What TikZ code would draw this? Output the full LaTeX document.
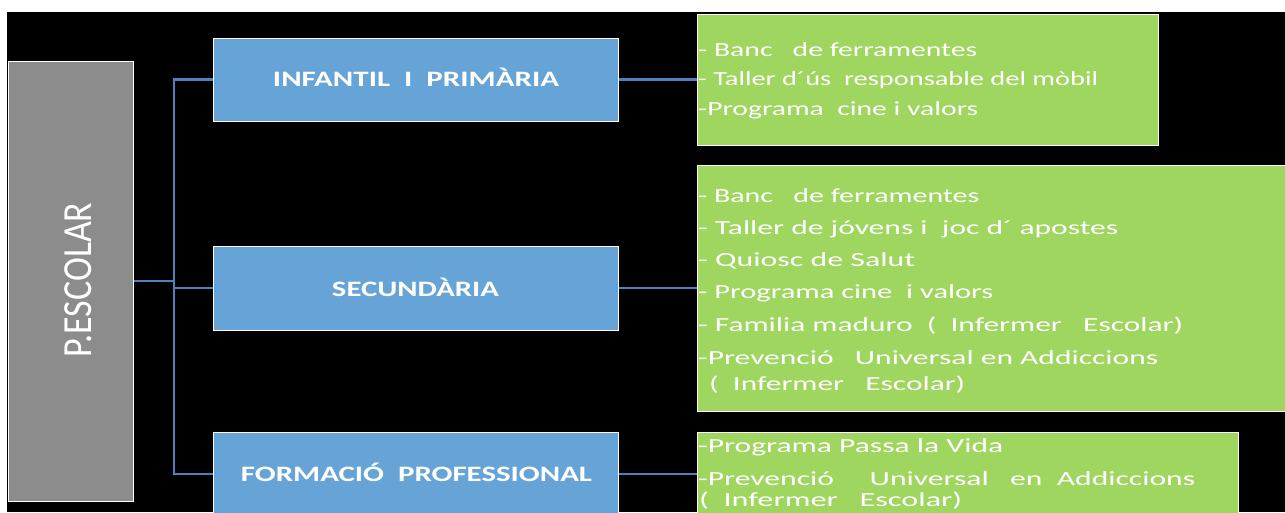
\documentclass[tikz,border=0pt]{standalone}
\usepackage{fontspec}
\usepackage{graphicx}
\setmainfont{Carlito}
\newcommand{\gw}[2]{\resizebox{#1pt}{\height}{#2}}
\begin{document}
\begin{tikzpicture}[x=1pt,y=-1pt,
  greybox/.style={draw=white,line width=1pt,fill=grey0,minimum width=125pt,minimum height=440pt,inner sep=0pt},
  bluebox/.style={draw=white,line width=1pt,fill=blue0,minimum width=405pt,inner sep=0pt},
  greenbox/.style={draw=white,line width=1pt,fill=green0,inner sep=0pt},
  btext/.style={text=white,font=\bfseries\fontsize{22}{24}\selectfont,inner sep=0pt,anchor=base},
  gtext/.style={text=white,font=\fontsize{20}{22}\selectfont,inner sep=0pt,anchor=base west},
  link/.style={draw=link0,line width=2.2pt}]
\definecolor{grey0}{HTML}{8C8C8C}
\definecolor{blue0}{HTML}{66A3D6}
\definecolor{green0}{HTML}{9FD660}
\definecolor{link0}{HTML}{4F81BD}
\useasboundingbox (0,0) rectangle (1285,512);
\fill[white] (0,0) rectangle (1285,512);
\fill[black] (7,12) rectangle (1285,512);
% boxes
\node[greybox] (grey) at (70.5,281) {};
\node[bluebox,minimum height=83pt] (b1) at (415.5,79.5) {};
\node[bluebox,minimum height=84pt] (b2) at (415.5,288) {};
\node[bluebox,minimum height=90pt] (b3) at (415.5,477) {};
\node[greenbox,minimum width=461pt,minimum height=131pt] (g1) at (927.5,79.5) {};
\node[greenbox,minimum width=593pt,minimum height=246pt] (g2) at (993.5,288) {};
\node[greenbox,minimum width=541pt,minimum height=90pt] (g3) at (967.5,477) {};
% texts
\node[text=white,font=\fontsize{36}{38}\selectfont,anchor=east,inner sep=0pt] (pt) at (92,280) {\rotatebox{90}{\scalebox{1}[1.15]{P.ESCOLAR}}};
\node[btext] (t1) at (416,86) {\gw{286}{INFANTIL\ \ I\ \ PRIMÀRIA}};
\node[btext] (t2) at (415.5,296) {\gw{167}{SECUNDÀRIA}};
\node[btext] (t3) at (416.5,481) {\gw{351}{FORMACIÓ\ \ PROFESSIONAL}};
\node[gtext] (g1a) at (698,56) {\gw{279}{- Banc\ \ \ de ferramentes}};
\node[gtext] (g1b) at (698,85) {\gw{400}{- Taller d´ús\ \ responsable del mòbil}};
\node[gtext] (g1c) at (698,115) {\gw{280}{-Programa\ \ cine i valors}};
\node[gtext] (g2a) at (698,202.5) {\gw{281}{- Banc\ \ \ de ferramentes}};
\node[gtext] (g2b) at (698,234.5) {\gw{420}{- Taller de jóvens i\ \ joc d´ apostes}};
\node[gtext] (g2c) at (698,266) {\gw{217}{- Quiosc de Salut}};
\node[gtext] (g2d) at (698,298) {\gw{295}{- Programa cine\ \ i valors}};
\node[gtext] (g2e) at (698,331) {\gw{485}{- Familia maduro\ \ (\ \ Infermer\ \ \ Escolar)}};
\node[gtext] (g2f) at (698,364) {\gw{460}{-Prevenció\ \ \ Universal en Addiccions}};
\node[gtext] (g2g) at (709,390) {\gw{256}{(\ \ Infermer\ \ \ Escolar)}};
\node[gtext] (g3a) at (698,452.5) {\gw{305}{-Programa Passa la Vida}};
\node[gtext] (g3b) at (698,485) {\gw{497}{-Prevenció\ \ \ \ \ Universal\ \ \ en\ \ Addiccions}};
\node[gtext] (g3c) at (699,506) {\gw{263}{(\ \ Infermer\ \ \ Escolar)}};
% connectors
\coordinate (spine) at (174,281);
\draw[link] (grey.east) -- (spine);
\draw[link] (b1.west) -| (spine) |- (b3.west |- 0,474);
\draw[link] (spine |- b2.west) -- (b2.west);
\draw[link] (b1.east) -- (b1.east -| g1.west);
\draw[link] (b2.east) -- (b2.east -| g2.west);
\draw[link] (b3.east |- 0,474) -- (g3.west |- 0,474);
\end{tikzpicture}
\end{document}
